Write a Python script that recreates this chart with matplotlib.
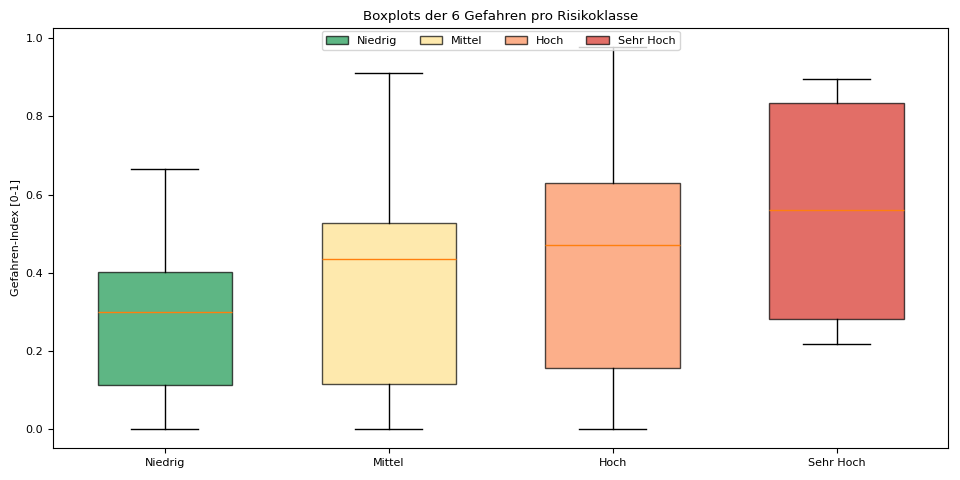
import matplotlib
matplotlib.use("Agg")
import matplotlib.pyplot as plt
from matplotlib.patches import Patch

categories = ["Niedrig", "Mittel", "Hoch", "Sehr Hoch"]
whisker_low = [0.0, 0.0, 0.0, 0.217]
q1 = [0.112, 0.115, 0.156, 0.281]
median = [0.299, 0.435, 0.471, 0.560]
q3 = [0.402, 0.527, 0.629, 0.834]
whisker_high = [0.665, 0.910, 0.978, 0.897]
colors = ["#1a9850", "#fee08b", "#fc8d59", "#d73027"]

stats = []
for i, c in enumerate(categories):
    stats.append(dict(label=c, whislo=whisker_low[i], q1=q1[i], med=median[i],
                      q3=q3[i], whishi=whisker_high[i], fliers=[]))

fig, ax = plt.subplots(figsize=(9.6, 4.8), dpi=100)
bp = ax.bxp(stats, patch_artist=True, widths=0.6)
for patch, col in zip(bp["boxes"], colors):
    patch.set_facecolor(col)
    patch.set_alpha(0.7)

ax.set_title("Boxplots der 6 Gefahren pro Risikoklasse", fontsize=9.6)
ax.set_ylabel("Gefahren-Index [0-1]", fontsize=8)
ax.tick_params(labelsize=8)

handles = [Patch(facecolor=col, edgecolor="black", alpha=0.7, label=c)
           for c, col in zip(categories, colors)]
ax.legend(handles=handles, loc="upper center", ncol=4, fontsize=8,
          borderaxespad=0.3, handlelength=2, columnspacing=2.0)

fig.subplots_adjust(left=0.055, right=0.988, top=0.942, bottom=0.067)
fig.savefig("out.png")
